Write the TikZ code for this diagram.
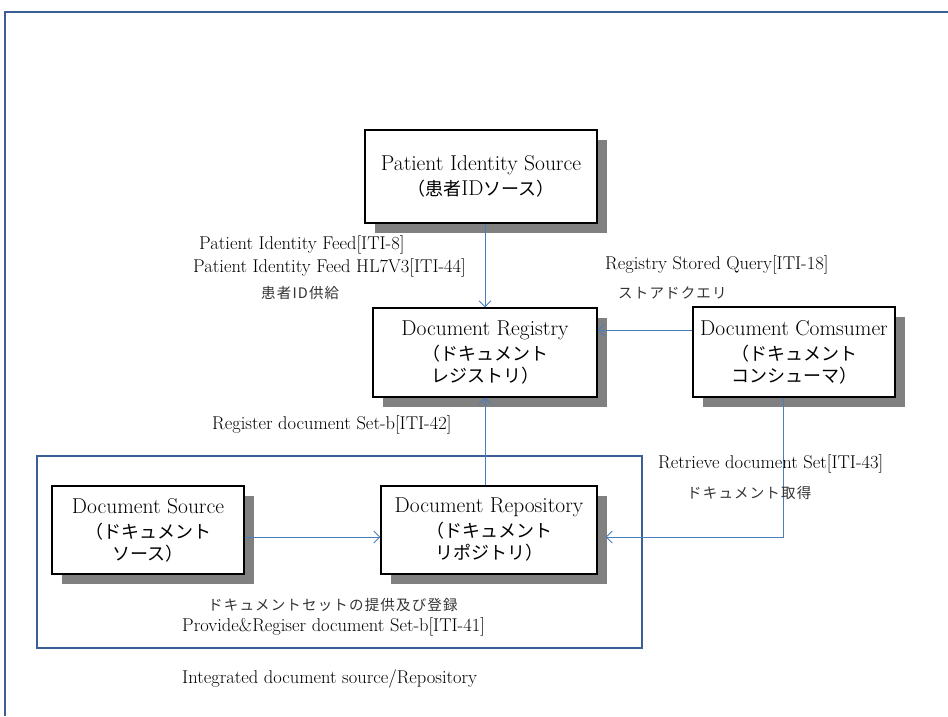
\documentclass[tikz,border=0pt]{standalone}
\usepackage{fontspec}
\usetikzlibrary{arrows.meta,shadows,calc}
\newfontfamily\jpbox{Noto Sans CJK JP}
\newfontfamily\jplab{Noto Sans CJK JP}[LetterSpace=8]
\newcommand{\jpline}[1]{{\jpbox\fontsize{18}{22}\selectfont #1}}
\definecolor{linkblue}{HTML}{4A7EBB}
\definecolor{frameblue}{HTML}{3A5F94}
\definecolor{shade}{HTML}{808080}

\begin{document}
\begin{tikzpicture}[x=1pt, y=1pt,
        actor/.style={draw, line width=1.2pt, fill=white, align=center, inner sep=0pt,
            font=\fontsize{21.5}{25}\selectfont,
            drop shadow={shadow xshift=10pt, shadow yshift=-10pt, fill=shade, opacity=1}},
        link/.style={draw=linkblue, line width=0.9pt, -{Straight Barb[length=6pt,width=12pt]}},
        lab/.style={inner sep=0pt, anchor=west, font=\fontsize{18.5}{20}\selectfont},
        jlab/.style={inner sep=0pt, anchor=west, text=black!80, font=\jplab\fontsize{14.5}{16}\selectfont}]
    \useasboundingbox (0,0) rectangle (948,-716);

    % outer frame and integrated group
    \draw[frameblue, line width=1.5pt] (5,-716) |- (948,-12);
    \draw[frameblue, line width=2pt] (37,-456) rectangle (642,-648);

    % actors
    \node[actor, minimum width=232pt, minimum height=93pt] (pis) at (481,-176.5)
        {Patient Identity Source\\\jpline{（患者}ID\jpline{ソース）}};
    \node[actor, minimum width=224pt, minimum height=89pt] (reg) at (485,-352.5)
        {Document Registry\\\jpline{（ドキュメント}\\[-3pt]\jpline{レジストリ）}};
    \node[actor, minimum width=202pt, minimum height=90pt] (cons) at (794,-352)
        {Document Comsumer\\\jpline{（ドキュメント}\\[-3pt]\jpline{コンシューマ）}};
    \node[actor, minimum width=192pt, minimum height=88pt] (src) at (148,-530)
        {Document Source\\\jpline{（ドキュメント}\\[-3pt]\jpline{ソース）}};
    \node[actor, minimum width=216pt, minimum height=88pt] (repo) at (489,-530)
        {Document Repository\\\jpline{（ドキュメント}\\[-3pt]\jpline{リポジトリ）}};

    % transactions
    \draw[link] (pis.south -| reg.north) -- (reg.north);
    \draw[link] ([yshift=22pt]cons.west) -- ([yshift=22pt]cons.west -| reg.east);
    \draw[link] (reg.south |- repo.north) -- (reg.south);
    \draw[link] ([yshift=-7pt]src.east) -- ([yshift=-7pt]repo.west);
    \draw[link] ([xshift=-11pt]cons.south) |- ($(repo.east)+(8pt,-7pt)$);

    % labels
    \node[lab] (feed1) at (199,-245) {Patient Identity Feed[ITI-8]};
    \node[lab] (feed2) at (193,-268) {Patient Identity Feed HL7V3[ITI-44]};
    \node[jlab] (feedjp) at (261,-293) {患者ID供給};
    \node[lab] (query) at (605,-265) {Registry Stored Query[ITI-18]};
    \node[jlab] (queryjp) at (618,-293) {ストアドクエリ};
    \node[lab] (register) at (212,-425) {Register document Set-b[ITI-42]};
    \node[lab] (retrieve) at (658,-464) {Retrieve document Set[ITI-43]};
    \node[jlab] (retrievejp) at (687,-493) {ドキュメント取得};
    \node[jlab] (providejp) at (208,-605) {ドキュメントセットの提供及び登録};
    \node[lab] (provide) at (182,-627) {Provide\&Regiser document Set-b[ITI-41]};
    \node[lab] (group) at (182,-679) {Integrated document source/Repository};
\end{tikzpicture}
\end{document}
